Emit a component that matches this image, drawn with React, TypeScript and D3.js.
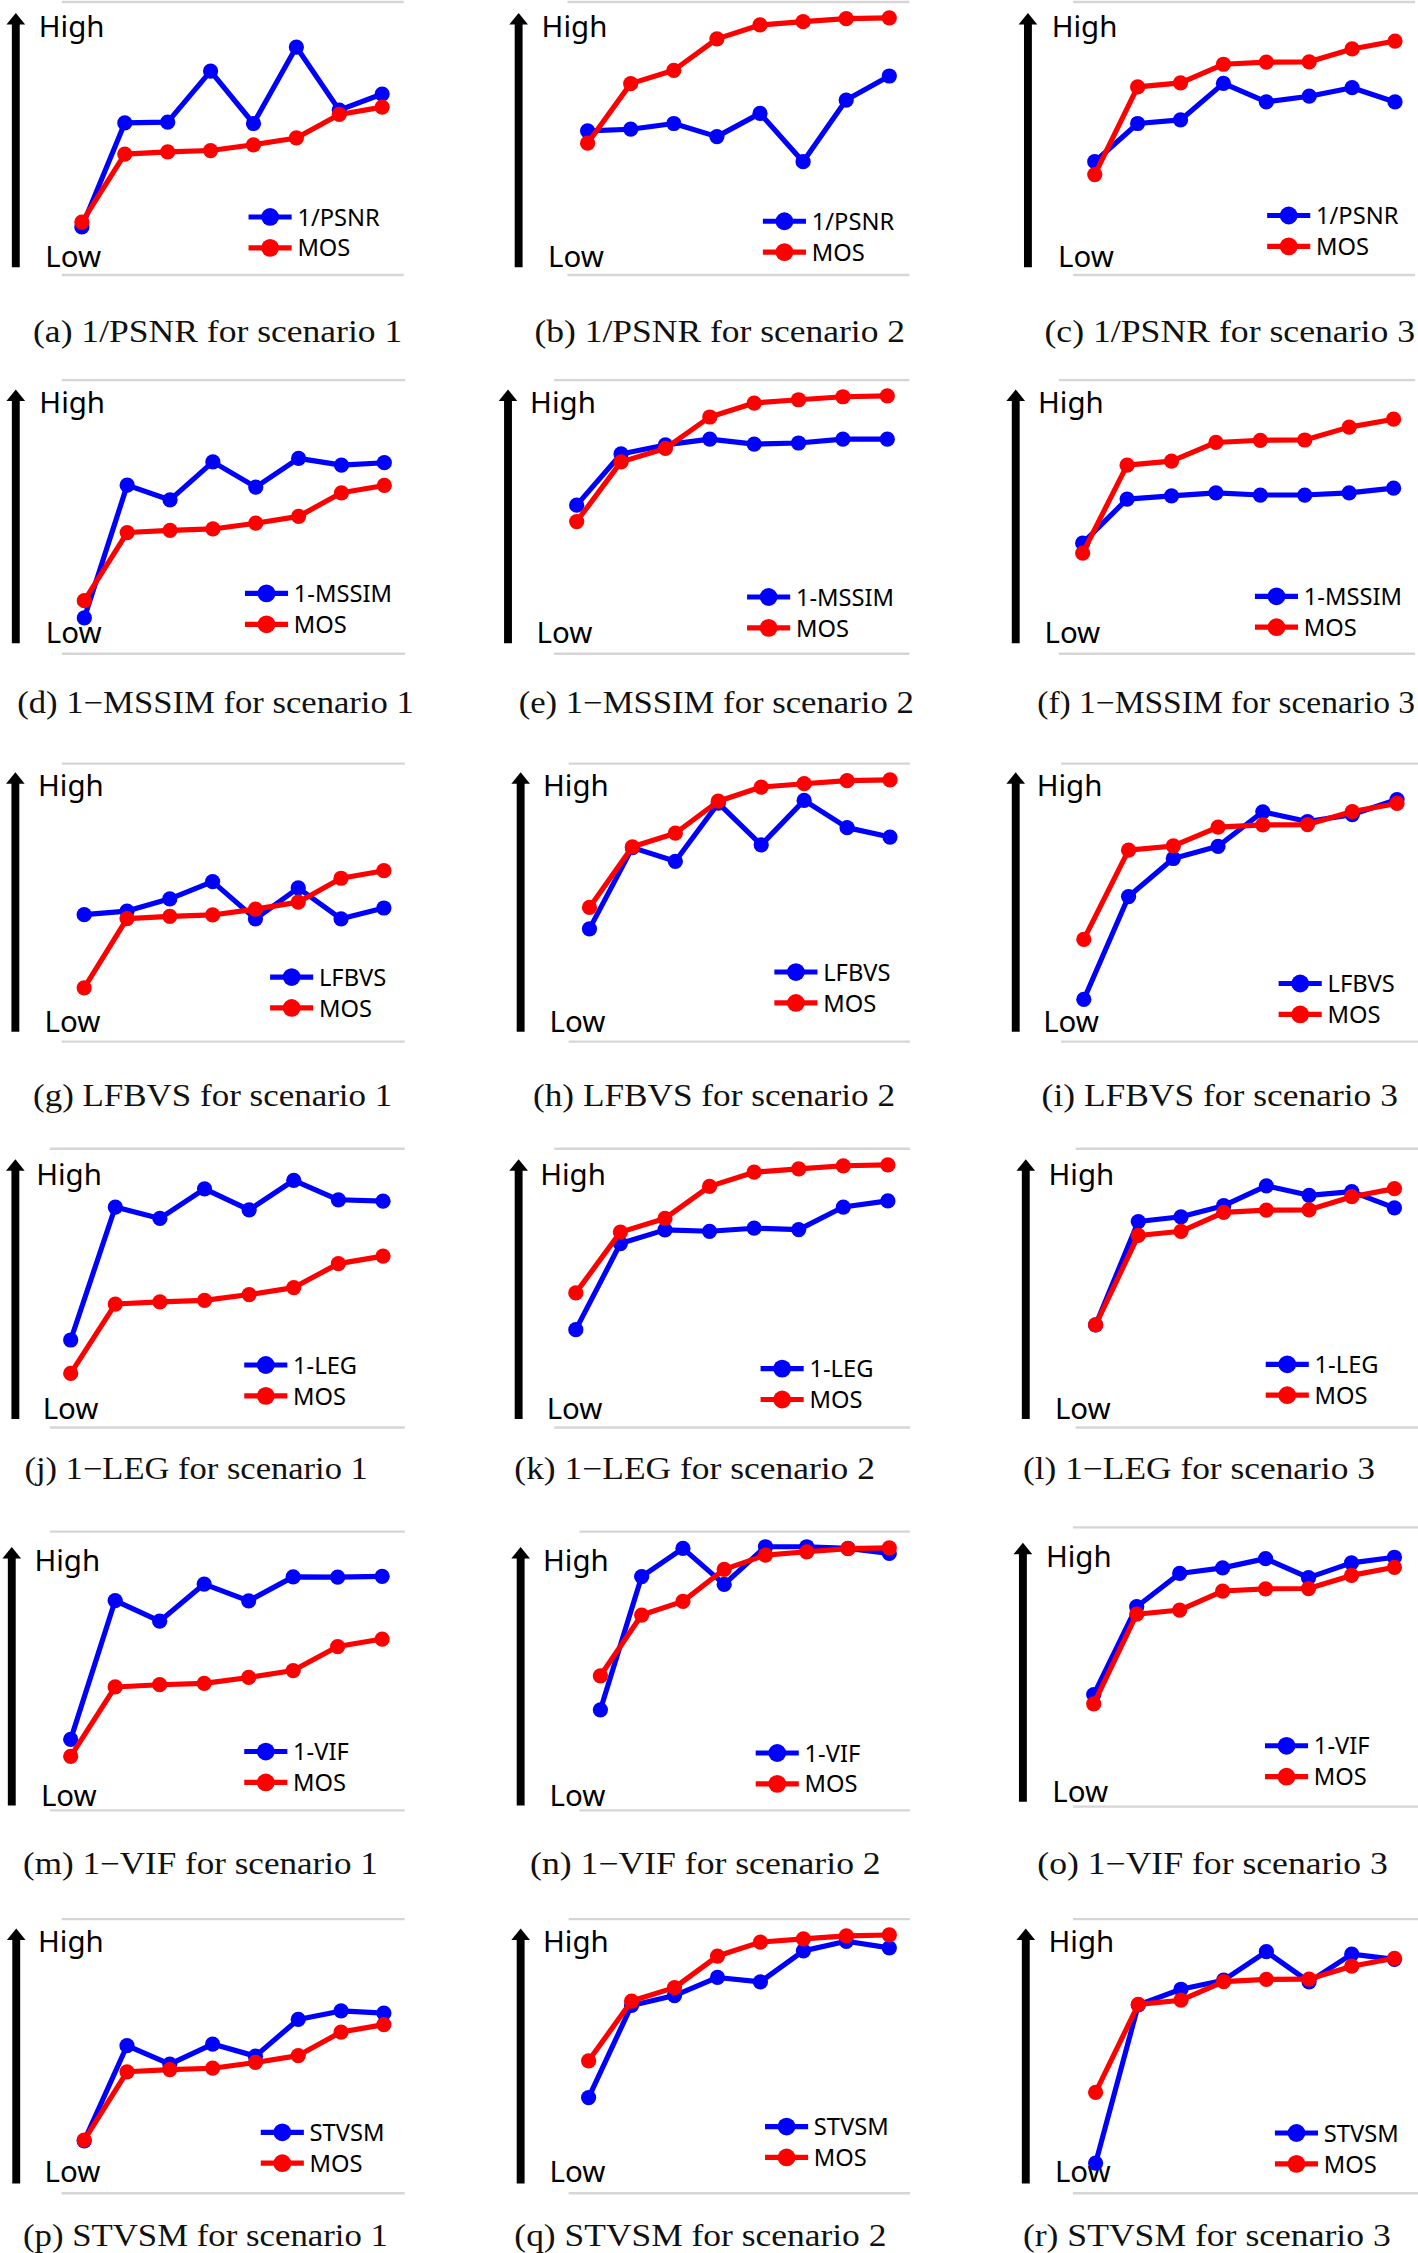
import React from 'react';
import * as d3 from 'd3';

// quality levels on the x axis (no tick labels in the figure)
const levels = [1, 2, 3, 4, 5, 6, 7, 8];

// values on a 0 (Low) .. 100 (High) scale
const mosS1 = [19.4, 44.3, 45.1, 45.6, 47.7, 50.2, 58.8, 61.5];
const mosS2 = [48.3, 70.1, 75.0, 86.5, 91.6, 92.8, 93.9, 94.2];
const mosS3 = [36.8, 68.9, 70.4, 77.2, 78.0, 78.1, 82.8, 85.7];

const psnrS1 = [17.6, 55.7, 56.0, 74.7, 55.5, 83.5, 60.4, 66.3];
const psnrS2 = [52.8, 53.4, 55.5, 50.7, 59.2, 41.5, 64.1, 72.9];
const psnrS3 = [41.5, 55.5, 56.8, 70.2, 63.4, 65.5, 68.6, 63.4];
const mssimS1 = [13.1, 61.6, 56.2, 70.1, 60.9, 71.4, 68.9, 69.8];
const mssimS2 = [54.3, 73.0, 76.3, 78.4, 76.6, 77.0, 78.4, 78.4];
const mssimS3 = [40.4, 56.5, 57.7, 58.8, 58.0, 58.0, 58.8, 60.5];
const lfbvsS1 = [45.7, 47.0, 51.4, 57.6, 44.2, 55.3, 44.2, 48.1];
const lfbvsS2 = [40.6, 69.8, 64.9, 85.8, 70.8, 86.8, 77.0, 73.6];
const lfbvsS3 = [15.2, 52.2, 65.9, 70.3, 82.7, 79.2, 81.7, 87.1];
const legS1 = [31.4, 79.1, 75.0, 85.6, 78.1, 88.7, 81.7, 81.2];
const legS2 = [35.1, 66.0, 70.9, 70.4, 71.5, 71.0, 79.1, 81.3];
const legS3 = [36.8, 73.9, 75.6, 79.6, 86.7, 83.3, 84.6, 78.8];
const vifS1 = [25.5, 75.3, 67.9, 81.2, 75.2, 83.8, 83.7, 84.0];
const vifS2 = [36.1, 83.9, 94.0, 81.1, 94.6, 94.6, 94.0, 92.2];
const vifS3 = [40.1, 71.6, 83.5, 85.5, 88.8, 82.0, 87.3, 89.3];
const stvsmS1 = [19.1, 53.8, 47.1, 54.4, 50.0, 63.4, 66.5, 65.7];
const stvsmS2 = [34.9, 68.5, 72.1, 78.7, 77.1, 88.4, 91.9, 89.5];
const stvsmS3 = [11.0, 68.7, 74.4, 77.7, 88.1, 77.1, 87.2, 85.3];

const legendNames = ['1/PSNR', '1-MSSIM', 'LFBVS', '1-LEG', '1-VIF', 'STVSM'];
const captionNames = ['1/PSNR', '1\u2212MSSIM', 'LFBVS', '1\u2212LEG', '1\u2212VIF', 'STVSM'];
const letters = 'abcdefghijklmnopqr'.split('');
const metricRows = [
  [psnrS1, psnrS2, psnrS3],
  [mssimS1, mssimS2, mssimS3],
  [lfbvsS1, lfbvsS2, lfbvsS3],
  [legS1, legS2, legS3],
  [vifS1, vifS2, vifS3],
  [stvsmS1, stvsmS2, stvsmS3],
];
const mosByScenario = [mosS1, mosS2, mosS3];

// layout in a 987 x 1568 design grid (scaled up by the viewBox)
// [gray x0, gray x1, top, bottom, arrow x, High x, first pt x, last pt x, legend x, legend y, caption x0, caption x1]
const frames = [
  [43, 281, 1.4, 191.4, 11, 27, 57, 266, 173, 151, 23, 280],
  [395, 633, 1.4, 191.4, 361, 377, 409, 619, 531, 154, 372, 630],
  [747, 985, 1.4, 191.4, 715.5, 732, 762, 971, 882, 150, 727, 985],
  [43, 282, 264.5, 455, 11, 27.4, 58.7, 267.5, 170.5, 413, 12, 288],
  [385.6, 633, 264.5, 455, 353.6, 369, 401.4, 617.6, 520, 415.5, 361, 636],
  [737, 985, 264.5, 455, 707, 722.5, 753.6, 970, 873.5, 415, 722, 985],
  [43, 281.7, 531.5, 725, 10.7, 26.5, 58.6, 267.2, 188, 680, 23, 273],
  [395.8, 633.4, 531.5, 725, 362.4, 378, 410.3, 619.5, 539, 676.5, 371, 623],
  [738.6, 987, 531.5, 725, 707, 721.6, 754.4, 972.4, 890, 684.5, 725, 973],
  [34.7, 281.7, 799.5, 993.5, 10.7, 25.2, 49.2, 266.6, 170, 950, 17, 256],
  [385.8, 633.4, 799.5, 993.5, 361, 376, 400.8, 618, 529.4, 952.5, 358, 609],
  [748.7, 987, 799.5, 993.5, 714, 729.8, 762.6, 970.6, 881, 949.5, 712, 957],
  [34.7, 281.7, 1066, 1260, 8.2, 24, 49.2, 266, 170, 1219, 16, 263],
  [403.4, 633.4, 1066, 1260, 362.4, 378, 417.9, 619, 526, 1220, 369, 613],
  [746.8, 987, 1063, 1257.3, 712, 728, 761.3, 970.6, 880.5, 1215, 722, 966],
  [42.9, 281.7, 1335.6, 1526.4, 11.3, 26.5, 58.6, 267.2, 181.5, 1484, 16, 270],
  [395.8, 633.4, 1335.6, 1526.4, 362.4, 378, 409.7, 619, 532.5, 1480, 358, 617],
  [746.8, 987, 1335.6, 1526.4, 714, 729.8, 762.6, 970.6, 887.4, 1484.5, 712, 968],
];
// per row: arrow top offset, arrow bottom offset, High baseline offset, Low baseline offset
const rowOffsets = [
  [7.6, 5.4, 24.6, 5.4],
  [6.5, 7.3, 23, 7.4],
  [6, 7, 22.5, 7],
  [7.3, 6, 25, 6],
  [10.7, 3.4, 27.5, 3.4],
  [6.6, 6.7, 23, 7.8],
];
const captionBaselines = [238, 496, 770, 1029, 1304, 1563];

const BLUE = '#0000ff';
const RED = '#ff0000';
const SANS = '"Noto Sans", "Open Sans", sans-serif';

function Panel({ idx }: { idx: number }) {
  const row = Math.floor(idx / 3);
  const col = idx % 3;
  const [gx0, gx1, top, bottom, ax, hx, px0, px1, lx, ly, cx0, cx1] = frames[idx];
  const [aT, aB, hOff, lOff] = rowOffsets[row];
  const metric = metricRows[row][col];
  const mos = mosByScenario[col];

  const x = d3.scaleLinear().domain([levels[0], levels[levels.length - 1]]).range([px0, px1]);
  const y = d3.scaleLinear().domain([0, 100]).range([bottom, top]);
  const line = d3.line<number>().x((_, i) => x(levels[i])).y((d) => y(d));

  const series = [
    { name: legendNames[row], values: metric, color: BLUE },
    { name: 'MOS', values: mos, color: RED },
  ];

  return (
    <g>
      <line x1={gx0} x2={gx1} y1={top} y2={top} stroke="#d6d6d6" strokeWidth={1.6} />
      <line x1={gx0} x2={gx1} y1={bottom} y2={bottom} stroke="#d6d6d6" strokeWidth={1.6} />
      {/* Low -> High arrow */}
      <line x1={ax} x2={ax} y1={top + aT + 7} y2={bottom - aB} stroke="#000" strokeWidth={5.5} />
      <path d={`M${ax - 6.5},${top + aT + 8} L${ax},${top + aT} L${ax + 6.5},${top + aT + 8} Z`} fill="#000" />
      <text x={hx} y={top + hOff} fontFamily={SANS} fontSize={20.5} fill="#000">High</text>
      <text x={hx + 4.5} y={bottom - lOff} fontFamily={SANS} fontSize={20.5} fill="#000">Low</text>

      {series.map((s) => (
        <g key={s.name}>
          <path d={line(s.values) || ''} fill="none" stroke={s.color} strokeWidth={3.6} strokeLinejoin="round" />
          {s.values.map((v, i) => (
            <circle key={i} cx={x(levels[i])} cy={y(v)} r={5.3} fill={s.color} />
          ))}
        </g>
      ))}

      {series.map((s, k) => {
        const yy = ly + k * 21.5;
        return (
          <g key={'leg' + k}>
            <line x1={lx} x2={lx + 30} y1={yy} y2={yy} stroke={s.color} strokeWidth={3.6} />
            <circle cx={lx + 15} cy={yy} r={6.2} fill={s.color} />
            <text x={lx + 34} y={yy + 6} fontFamily={SANS} fontSize={16.5} fill="#000">{s.name}</text>
          </g>
        );
      })}

      <text
        x={cx0}
        y={captionBaselines[row]}
        fontFamily='"Liberation Serif", "DejaVu Serif", serif'
        fontSize={21.5}
        fill="#111"
        textLength={cx1 - cx0}
        lengthAdjust="spacingAndGlyphs"
      >
        {`(${letters[idx]}) ${captionNames[row]} for scenario ${col + 1}`}
      </text>
    </g>
  );
}

export default function App() {
  return (
    <svg
      width={1418}
      height={2253}
      viewBox="0 0 987 1568"
      preserveAspectRatio="none"
      style={{ position: 'absolute', left: 0, top: 0, background: '#fff' }}
    >
      <rect width={987} height={1568} fill="#fff" />
      {frames.map((_, i) => (
        <Panel key={i} idx={i} />
      ))}
    </svg>
  );
}
